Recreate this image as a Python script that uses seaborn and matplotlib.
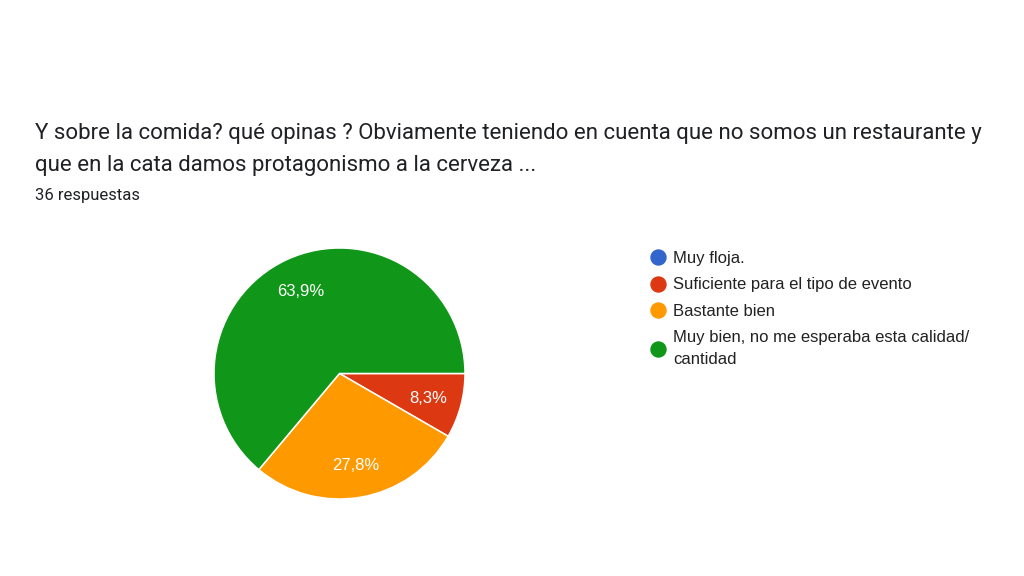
import matplotlib.pyplot as plt
import seaborn as sns
from matplotlib.lines import Line2D

# Data (36 respuestas)
categorias = ["Muy floja.", "Suficiente para el tipo de evento", "Bastante bien",
              "Muy bien, no me esperaba esta calidad/\ncantidad"]
respuestas = [0, 3, 10, 23]
colores = sns.color_palette(["#3366cc", "#dc3912", "#ff9900", "#109618"])

sns.set_theme(style="white")
plt.rcParams['font.family'] = ['Roboto', 'DejaVu Sans']

fig = plt.figure(figsize=(10.24, 5.76), dpi=100)
fig.patch.set_facecolor("white")

fig.text(35 / 1024, 1 - 133 / 576,
         "Y sobre la comida? qué opinas ? Obviamente teniendo en cuenta que no somos un restaurante y",
         fontsize=16, color="#202124", va="center")
fig.text(35 / 1024, 1 - 166 / 576,
         "que en la cata damos protagonismo a la cerveza ...",
         fontsize=16, color="#202124", va="center")
fig.text(35 / 1024, 1 - 195 / 576, "36 respuestas",
         fontsize=12, color="#202124", va="center")


def fmt_pct(p):
    if p < 0.05:
        return ""
    return f"{p:.1f}%".replace(".", ",")


ax = fig.add_axes([214 / 1024, 77 / 576, 251 / 1024, 251 / 576])
wedges, texts, autotexts = ax.pie(
    respuestas, colors=colores, startangle=0, counterclock=False,
    autopct=fmt_pct, pctdistance=0.73,
    wedgeprops=dict(edgecolor="white", linewidth=1.1),
    textprops=dict(color="white", fontsize=12, family=["Liberation Sans", "DejaVu Sans"]))
for t in autotexts:
    t.set_va("center_baseline")
ax.set_xlim(-1, 1)
ax.set_ylim(-1, 1)
ax.set_aspect("equal")
for w in wedges:
    w.set_clip_on(False)

handles = [Line2D([0], [0], marker="o", linestyle="", markersize=10.8,
                  markerfacecolor=c, markeredgecolor=c) for c in colores]
leg = fig.legend(handles, categorias, loc="upper left",
                 bbox_to_anchor=(650 / 1024, 1 - 251 / 576),
                 frameon=False, prop=dict(family=["Liberation Sans", "DejaVu Sans"], size=12),
                 borderpad=0, borderaxespad=0,
                 handletextpad=0.48, labelspacing=0.68, handlelength=0.9,
                 labelcolor="#222222")
leg.get_texts()[3].set_linespacing(1.62)

fig.savefig("out.png", dpi=100)
